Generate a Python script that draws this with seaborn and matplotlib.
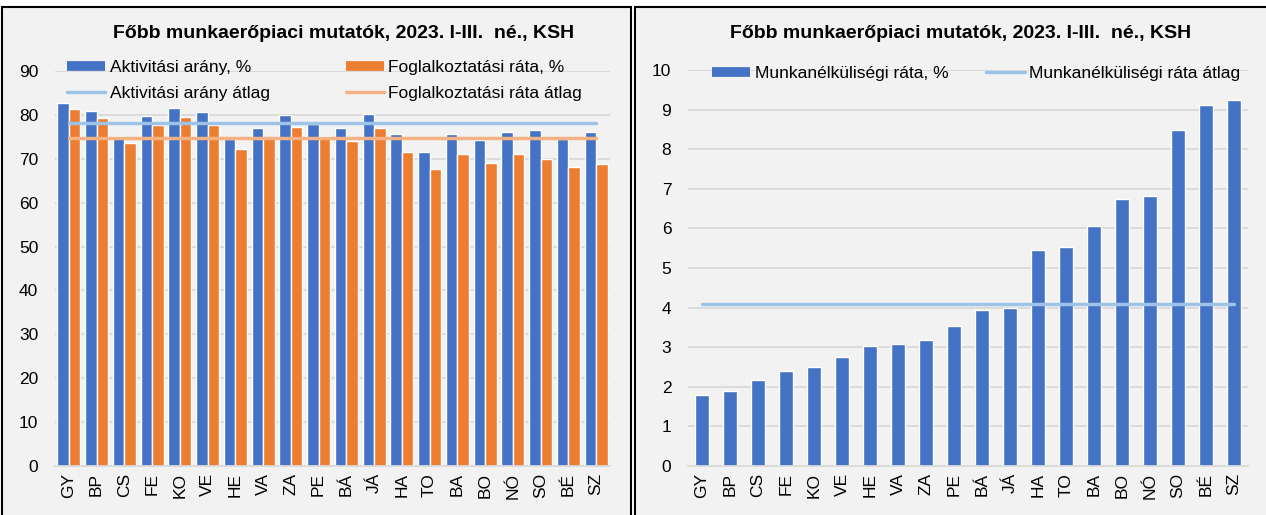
import matplotlib
matplotlib.use("Agg")
import matplotlib.pyplot as plt
import seaborn as sns
import pandas as pd
from matplotlib.patches import Rectangle
from matplotlib.lines import Line2D

# ---- data ----
categories = ["GY", "BP", "CS", "FE", "KO", "VE", "HE", "VA", "ZA", "PE",
              "BÁ", "JÁ", "HA", "TO", "BA", "BO", "NÓ", "SO", "BÉ", "SZ"]
aktivitasi = [82.8, 80.8, 75.3, 79.7, 81.5, 80.6, 74.6, 77.0, 80.0, 77.9,
              77.1, 80.3, 75.7, 71.6, 75.7, 74.2, 76.2, 76.6, 74.5, 76.0]
foglalkoztatasi = [81.3, 79.2, 73.7, 77.7, 79.5, 77.7, 72.2, 74.8, 77.3, 75.3,
                   74.0, 77.1, 71.6, 67.6, 71.2, 69.1, 71.2, 70.0, 68.2, 68.9]
aktivitasi_atlag = 78.1
foglalkoztatasi_atlag = 74.8
munkanelkuli = [1.80, 1.90, 2.17, 2.39, 2.49, 2.75, 3.04, 3.09, 3.17, 3.53,
                3.93, 3.99, 5.46, 5.52, 6.05, 6.75, 6.81, 8.48, 9.12, 9.24]
munkanelkuli_atlag = 4.08

title = "Főbb munkaerőpiaci mutatók, 2023. I-III.  né., KSH"
lab_akt = "Aktivitási arány, %"
lab_fog = "Foglalkoztatási ráta, %"
lab_akt_avg = "Aktivitási arány átlag"
lab_fog_avg = "Foglalkoztatási ráta átlag"
lab_mun = "Munkanélküliségi ráta, %"
lab_mun_avg = "Munkanélküliségi ráta átlag"

# ---- style ----
sns.set_style("white")
plt.rcParams["font.family"] = ["Liberation Sans", "DejaVu Sans"]
plt.rcParams["text.color"] = "black"
plt.rcParams["xtick.color"] = "black"
plt.rcParams["ytick.color"] = "black"

BLUE = "#4472C4"
ORANGE = "#ED7D31"
LBLUE = "#9DC3E6"
LORANGE = "#F4B183"
GRID = "#D9D9D9"
PANEL = "#F2F2F2"

W, H = 1266, 515
fig = plt.figure(figsize=(W / 100, H / 100), dpi=100)
fig.patch.set_facecolor("white")


def fx(p):
    return p / W


def fy(p):
    return 1 - p / H


# panels
for x0, x1 in [(2, 631), (635, 1272)]:
    fig.patches.append(Rectangle((fx(x0), fy(525)), fx(x1) - fx(x0), fy(7) - fy(525),
                                 transform=fig.transFigure, facecolor=PANEL,
                                 edgecolor="black", lw=1.5, zorder=-10))

n = len(categories)


def style_axes(ax, ymax, step):
    ax.set_facecolor("none")
    ax.set_ylim(0, ymax)
    ax.set_xlim(-0.5, n - 0.5)
    ax.set_yticks(range(0, ymax + 1, step))
    ax.yaxis.grid(True, color=GRID, lw=1.3)
    ax.xaxis.grid(False)
    ax.set_axisbelow(True)
    for s in ["top", "right", "left"]:
        ax.spines[s].set_visible(False)
    ax.spines["bottom"].set_color(GRID)
    ax.spines["bottom"].set_linewidth(1.3)
    ax.tick_params(axis="y", length=0, labelsize=12.5, pad=12, labelcolor="black")
    ax.tick_params(axis="x", length=0, labelsize=12.5, pad=5, rotation=90, labelcolor="black")
    ax.set_xlabel("")
    ax.set_ylabel("")


# ---- left chart ----
ax1 = fig.add_axes([fx(55), fy(466), (610 - 55) / W, (466 - 71) / H])
df = pd.DataFrame({
    "cat": categories * 2,
    "val": aktivitasi + foglalkoztatasi,
    "series": [lab_akt] * n + [lab_fog] * n,
})
sns.barplot(data=df, x="cat", y="val", hue="series", palette=[BLUE, ORANGE],
            saturation=1, width=0.82, errorbar=None, legend=False, ax=ax1, zorder=2)
ax1.plot(range(n), [aktivitasi_atlag] * n, color=LBLUE, lw=2.5, zorder=3)
ax1.plot(range(n), [foglalkoztatasi_atlag] * n, color=LORANGE, lw=2.5, zorder=3)
style_axes(ax1, 90, 10)

fig.text(fx(344), fy(34), title, ha="center", va="center", fontsize=14, fontweight="bold")

h = [Line2D([], [], color=BLUE, lw=7, solid_capstyle="butt"),
     Line2D([], [], color=LBLUE, lw=2.5),
     Line2D([], [], color=ORANGE, lw=7, solid_capstyle="butt"),
     Line2D([], [], color=LORANGE, lw=2.5)]
fig.legend(h, [lab_akt, lab_akt_avg, lab_fog, lab_fog_avg], ncol=2, loc="upper left",
           bbox_to_anchor=(fx(67), fy(60)), frameon=False, fontsize=12.5,
           handlelength=2.2, handletextpad=0.25, columnspacing=4.4,
           borderpad=0, borderaxespad=0, labelspacing=0.6)

# ---- right chart ----
ax2 = fig.add_axes([fx(688), fy(466), (1248 - 688) / W, (466 - 70) / H])
sns.barplot(x=categories, y=munkanelkuli, color=BLUE, saturation=1, width=0.52,
            errorbar=None, ax=ax2, zorder=2)
ax2.plot(range(n), [munkanelkuli_atlag] * n, color=LBLUE, lw=2.5, zorder=3)
style_axes(ax2, 10, 1)

fig.text(fx(961), fy(34), title, ha="center", va="center", fontsize=14, fontweight="bold")

h2 = [Line2D([], [], color=BLUE, lw=7, solid_capstyle="butt"),
      Line2D([], [], color=LBLUE, lw=2.5)]
fig.legend(h2, [lab_mun, lab_mun_avg], ncol=2, loc="upper left",
           bbox_to_anchor=(fx(712), fy(66)), frameon=False, fontsize=12.5,
           handlelength=2.2, handletextpad=0.25, columnspacing=2.2,
           borderpad=0, borderaxespad=0)

fig.savefig("out.png", dpi=100, facecolor="white")
